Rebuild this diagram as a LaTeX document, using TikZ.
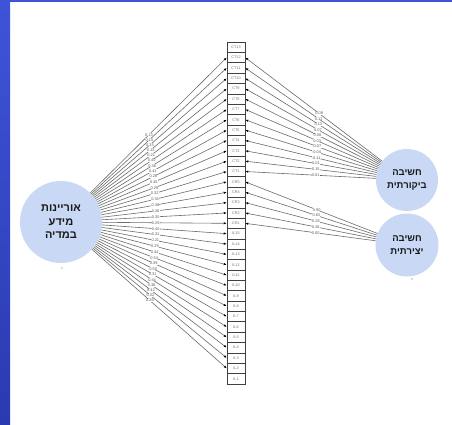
\documentclass[tikz,border=0pt]{standalone}
\usepackage{fontspec}
\setmainfont{Liberation Sans}
\newfontfamily\heb[Script=Hebrew]{Liberation Sans}
\TeXXeTstate=1
\usetikzlibrary{arrows.meta}
\definecolor{circfill}{RGB}{201,217,245}
\definecolor{bluetop}{RGB}{62,84,216}
\definecolor{bluebot}{RGB}{42,58,176}
\definecolor{txtdark}{RGB}{25,25,25}
\begin{document}
\begin{tikzpicture}[x=1pt,y=-1pt,
  box/.style={draw=black!75, line width=0.5pt, fill=white, minimum width=18pt, minimum height=10.36pt, inner sep=0pt, font=\fontsize{3.8}{3.8}\selectfont, text=black!55},
  arr/.style={draw=black!58, line width=0.6pt, -{Latex[length=3pt,width=2.4pt,color=black]}},
  lbl/.style={font=\fontsize{3.9}{3.9}\selectfont, text=black!65, fill=white, inner sep=0.25pt},
  circ/.style={circle, fill=circfill, draw=none, align=center, text=txtdark, inner sep=0pt}]
\useasboundingbox (0,0) rectangle (452,425);
\fill[white] (0,0) rectangle (452,425);
\shade[top color=bluetop, bottom color=bluebot] (0,0) rectangle (10,425);
\fill[bluetop] (0,0) rectangle (452,2);
% boxes
\foreach \n [count=\i from 0] in {CT13,CT12,CT11,CT10,CT9,CT8,CT7,CT6,CT5,CT4,CT3,CT2,CT1,CR5,CR4,CR3,CR2,CR1,IL15,IL14,IL13,IL12,IL11,IL10,IL9,IL8,IL7,IL6,IL5,IL4,IL3,IL2,IL1}
  \node[box] (\n) at (236,47.2+\i*10.36) {\n};
% circles
\node[circ, minimum size=82pt, font={\heb\bfseries\fontsize{11}{13.5}\selectfont}] (lit) at (61,222)
  {\beginR אוריינות\endR\\ \beginR מידע\endR\\ \beginR במדיה\endR};
\node[circ, minimum size=62pt, font={\heb\bfseries\fontsize{9.5}{12.5}\selectfont}] (crit) at (407,180)
  {\beginR חשיבה\endR\\ \beginR ביקורתית\endR};
\node[circ, minimum size=63pt, font={\heb\bfseries\fontsize{9.5}{12.5}\selectfont}] (crea) at (407,245)
  {\beginR חשיבה\endR\\ \beginR יצירתית\endR};
\fill[black!60] (62,268) circle (0.6);
\fill[black!60] (412,279) circle (0.6);
% left arrows
\foreach \n/\v in {CT12/0.13,CT11/0.15,CT10/0.33,CT9/0.13,CT8/0.21,CT7/0.40,CT6/0.36,CT5/0.41,CT4/0.28,CT3/0.45,CT2/0.29,CT1/0.32,CR5/0.34,CR4/0.38,CR3/0.26,CR2/0.35,CR1/0.29,IL15/0.40,IL14/0.31,IL13/0.21,IL12/0.29,IL11/0.44,IL10/0.54,IL9/0.39,IL8/0.50,IL7/0.31,IL6/0.44,IL5/0.36,IL4/0.42,IL3/0.32,IL2/0.26}
  \draw[arr] (lit) -- (\n.west) node[lbl,pos=0.43] {\v};
% right arrows, critical thinking
\foreach \n/\v in {CT12/0.08,CT11/0.12,CT10/0.13,CT9/0.07,CT8/0.08,CT7/0.03,CT6/-0.07,CT5/-0.04,CT4/-0.11,CT3/0.01,CT2/0.15,CT1/0.01}
  \draw[arr] (crit) -- (\n.east) node[lbl,pos=0.46] {\v};
% right arrows, creative thinking
\foreach \n/\v in {CR5/0.90,CR4/0.63,CR3/0.26,CR2/0.26,CR1/0.00}
  \draw[arr] (crea) -- (\n.east) node[lbl,pos=0.46] {\v};
\end{tikzpicture}
\end{document}
